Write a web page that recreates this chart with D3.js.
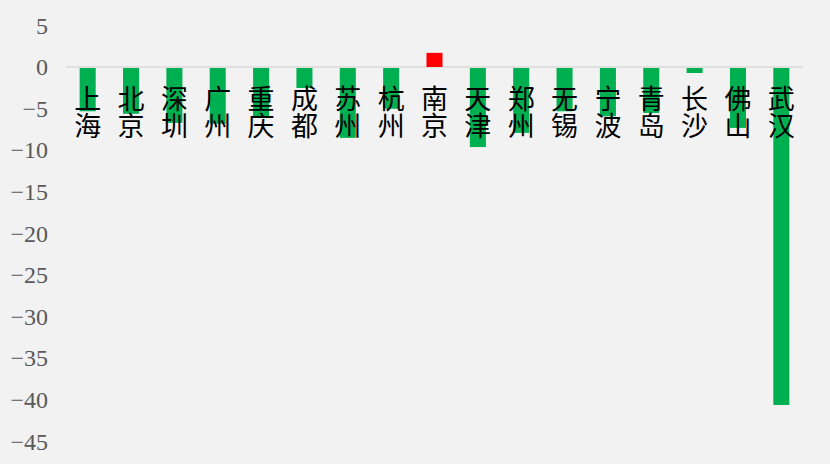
<!DOCTYPE html>
<html>
<head>
<meta charset="utf-8">
<script src="https://cdn.jsdelivr.net/npm/d3@7"></script>
<style>
body{margin:0;background:#f2f2f2;}
</style>
</head>
<body>
<script>
// data
const cities=["上海","北京","深圳","广州","重庆","成都","苏州","杭州","南京","天津","郑州","无锡","宁波","青岛","长沙","佛山","武汉"];
const values=[-5.2,-5.5,-6.6,-6.7,-6.0,-2.4,-8.4,-4.9,1.7,-9.5,-7.8,-5.2,-5.8,-5.4,-0.6,-7.2,-40.5];
const yTicks=[5,0,-5,-10,-15,-20,-25,-30,-35,-40,-45];

const w=830;
const h=464;

const xScale=d3.scaleBand().domain(cities).range([66,803]).paddingInner(0.63).paddingOuter(0.315);
const yScale=d3.scaleLinear().domain([-45,5]).range([441.4,25.4]);

const svg=d3.select("body")
    .append("svg")
    .attr("width",w)
    .attr("height",h)
    .style("background","#f2f2f2");

//y axis, labels only
const yAxis=d3.axisLeft(yScale).tickValues(yTicks).tickSize(0).tickPadding(0);
const gy=svg.append("g")
    .attr("transform","translate(48,0)")
    .call(yAxis);
gy.select(".domain").remove();
gy.selectAll("text")
    .attr("fill","#595959")
    .style("font-family","'Liberation Serif','Times New Roman',serif")
    .style("font-size","24px");

//zero line
svg.append("line")
    .attr("x1",xScale.range()[0])
    .attr("x2",xScale.range()[1])
    .attr("y1",yScale(0))
    .attr("y2",yScale(0))
    .attr("stroke","#d9d9d9")
    .attr("stroke-width",1.5);

//bars
svg.selectAll("rect.bar")
    .data(values)
    .enter()
    .append("rect")
    .attr("class","bar")
    .attr("x",(d,i)=>xScale(cities[i]))
    .attr("y",d=>d>0 ? yScale(d) : yScale(0)+1)
    .attr("width",xScale.bandwidth())
    .attr("height",d=>Math.abs(yScale(d)-yScale(0)))
    .attr("fill",d=>d>0 ? "#ff0000" : "#00b050");

//category labels, written top to bottom
svg.selectAll("text.lab")
    .data(cities)
    .enter()
    .append("text")
    .attr("class","lab")
    .attr("x",d=>xScale(d)+xScale.bandwidth()/2)
    .attr("y",112)
    .attr("text-anchor","middle")
    .attr("fill","#000")
    .style("writing-mode","vertical-rl")
    .style("text-orientation","upright")
    .style("letter-spacing","-0.5px")
    .style("font-family","'Noto Sans CJK SC',sans-serif")
    .style("font-size","27px")
    .text(d=>d);
</script>
</body>
</html>
